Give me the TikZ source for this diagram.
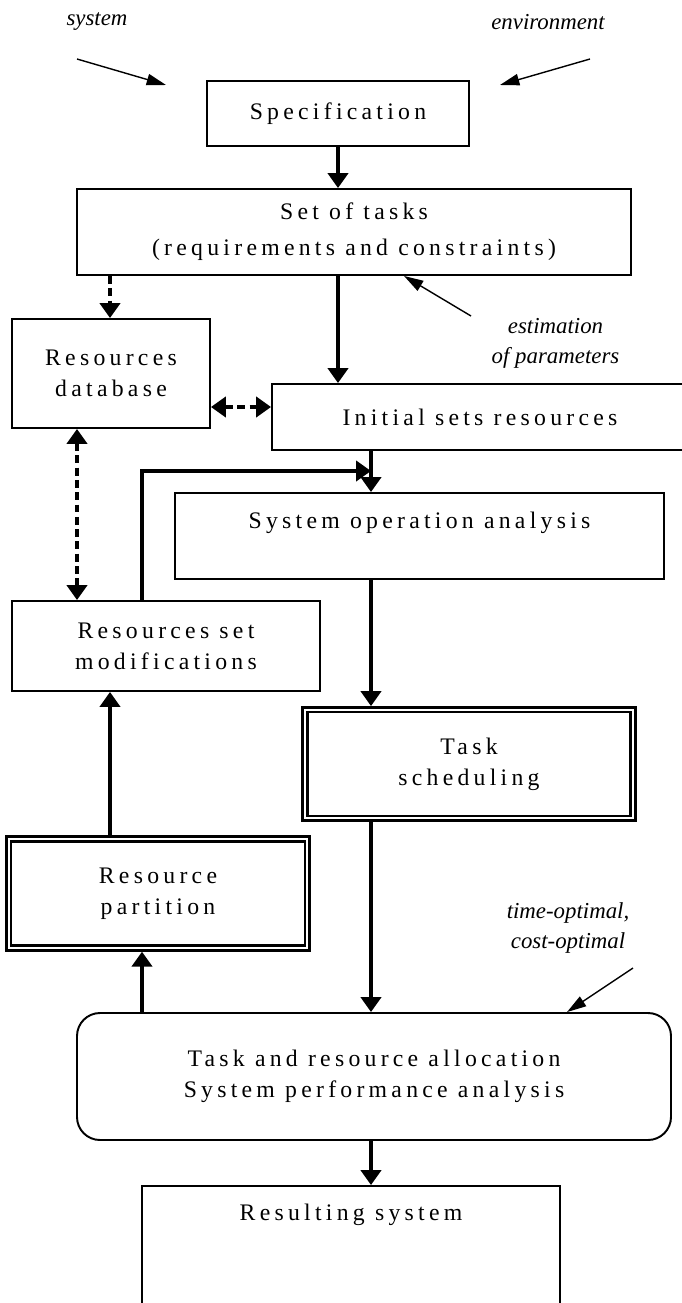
\documentclass[tikz,border=0pt]{standalone}
\usepackage{fontspec}
\setmainfont{Liberation Serif}
\newfontfamily\boxfont{Liberation Serif}[LetterSpace=18]
\usetikzlibrary{arrows.meta}

\begin{document}
\begin{tikzpicture}[
        >={Triangle[length=8.5pt,width=11.5pt]},
        box/.style={draw,line width=1.1pt,align=center,font=\boxfont\fontsize{13.5}{17.6}\selectfont},
        framed/.style={box,line width=1.6pt,double,double distance=1pt,outer sep=2.1pt},
        flow/.style={line width=1.9pt,->},
        dflow/.style={line width=2pt,dash pattern=on 4.5pt off 2.5pt},
        note/.style={line width=0.8pt,-{Triangle[length=11pt,width=6.5pt]}},
        remark/.style={align=center,font=\itshape\fontsize{13}{17}\selectfont}
    ]
    \useasboundingbox (0,0) rectangle (13.62,-26.06);

    \node[remark] (sysl) at (1.94,-0.44) {system};
    \node[remark] (envl) at (10.96,-0.44) {environment};
    \node[remark] (estl) at (11.11,-6.86) {estimation\\of parameters};
    \node[remark] (optl) at (11.36,-18.56) {time-optimal,\\cost-optimal};

    \node[box,minimum width=5.24cm,minimum height=1.3cm] (spec) at (6.76,-2.27) {Specification};
    \node[box,minimum width=11.08cm,minimum height=1.72cm] (tasks) at (7.08,-4.64) {Set of tasks\\[3pt](requirements and constraints)};
    \node[box,minimum width=3.96cm,minimum height=2.18cm] (db) at (2.22,-7.47) {Resources\\database};
    \node[box,minimum width=8.32cm,minimum height=1.32cm] (init) at (9.6,-8.34) {Initial sets resources};
    \node[box,minimum width=9.78cm,inner ysep=0pt,text height=0.7cm,text depth=1.02cm] (sysop) at (8.39,-10.72) {System operation analysis};
    \node[box,minimum width=6.16cm,minimum height=1.8cm] (mod) at (3.32,-12.92) {Resources set\\modifications};
    \node[framed,minimum width=6.56cm,minimum height=2.17cm] (ts) at (9.38,-15.28) {Task\\scheduling};
    \node[framed,minimum width=5.97cm,minimum height=2.18cm] (part) at (3.16,-17.87) {Resource\\partition};
    \node[box,rounded corners=0.46cm,minimum width=11.88cm,minimum height=2.54cm] (alloc) at (7.48,-21.53) {Task and resource allocation\\System performance analysis};
    \node[box,minimum width=8.36cm,inner ysep=0pt,text height=0.68cm,text depth=2.4cm] (result) at (7.02,-25.26) {Resulting system};

    \coordinate (sysA) at (1.54,-1.18);
    \coordinate (sysB) at (3.32,-1.7);
    \coordinate (envA) at (11.8,-1.18);
    \coordinate (envB) at (10.0,-1.7);
    \coordinate (estA) at (9.42,-6.32);
    \coordinate (estB) at (8.08,0);
    \coordinate (optA) at (12.66,-19.36);
    \coordinate (optB) at (11.34,0);
    \coordinate (cA) at (1.54,0);
    \coordinate (cB) at (2.2,0);
    \coordinate (cC) at (2.84,0);
    \coordinate (cE) at (7.42,0);
    \coordinate (rowA) at (0,-8.14);
    \coordinate (loop) at (7.42,-9.42);

    \draw[flow] (spec) -- (spec |- tasks.north);
    \draw[flow] (spec |- tasks.south) -- (spec |- init.north);
    \draw[dflow,->] (cB |- tasks.south) -- (cB |- db.north);
    \draw[dflow,<->] (db.east |- rowA) -- (init.west |- rowA);
    \draw[dflow,<->] (cA |- db.south) -- (cA |- mod.north);
    \draw[flow] (cE |- init.south) -- (cE |- sysop.north);
    \draw[flow] (cC |- mod.north) |- (loop);
    \draw[flow] (cE |- sysop.south) -- (cE |- ts.north);
    \draw[flow] (cE |- ts.south) -- (cE |- alloc.north);
    \draw[flow] (cB |- part.north) -- (cB |- mod.south);
    \draw[flow] (cC |- alloc.north) -- (cC |- part.south);
    \draw[flow] (cE |- alloc.south) -- (cE |- result.north);

    \draw[note] (sysA) -- (sysB);
    \draw[note] (envA) -- (envB);
    \draw[note] (estA) -- (estB |- tasks.south);
    \draw[note] (optA) -- (optB |- alloc.north);
\end{tikzpicture}
\end{document}
